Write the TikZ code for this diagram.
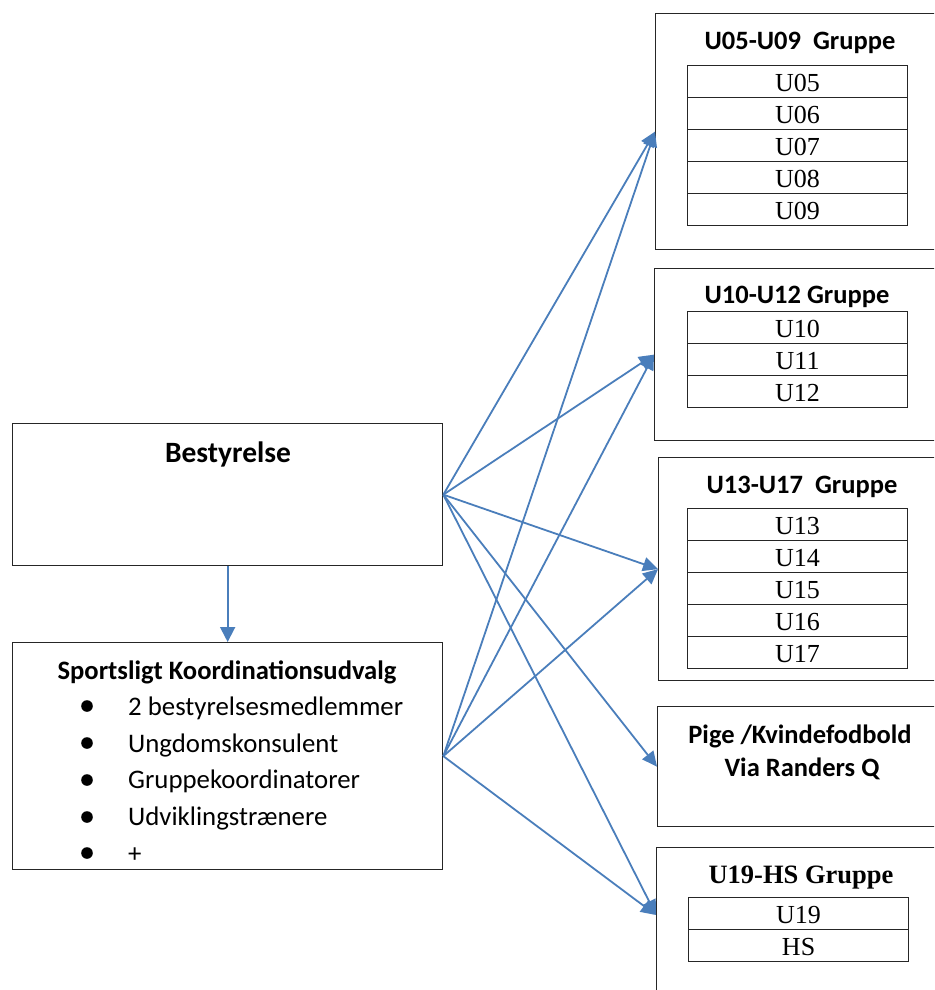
\documentclass[tikz,border=0pt]{standalone}
\usepackage{fontspec}
\setmainfont{Carlito}
\newfontfamily\tnr{Liberation Serif}
\usetikzlibrary{arrows.meta,calc}
\definecolor{lnblue}{RGB}{74,126,187}
\begin{document}
\begin{tikzpicture}[x=1pt,y=-1pt,
  box/.style={draw=black!85,line width=1.3pt,anchor=north west,inner sep=0pt},
  cell/.style={draw=black!85,line width=1.2pt,anchor=north west,minimum width=220pt,minimum height=32pt,inner sep=0pt,text height=20pt,text depth=0pt,font=\tnr\fontsize{26}{26}\selectfont},
  ttl/.style={anchor=base,inner sep=0pt,font=\bfseries\fontsize{26.5}{26.5}\selectfont},
  item/.style={anchor=base west,inner sep=0pt,font=\fontsize{26.8}{26.8}\selectfont},
  conn/.style={draw=lnblue,line width=1.8pt,-{Triangle[length=15pt,width=14pt]}},
]
\clip (0,0) rectangle (934,990);
\fill[white] (0,0) rectangle (934,990);

% left boxes
\node[box,minimum width=430pt,minimum height=142pt] (best) at (12,423) {};
\node[anchor=base,inner sep=0pt,font=\bfseries\fontsize{29.5}{29.5}\selectfont] (bestt) at (228,462) {Bestyrelse};

\node[box,minimum width=430pt,minimum height=227pt] (sku) at (12,642) {};
\node[anchor=base,inner sep=0pt,font=\bfseries\fontsize{26.6}{26.6}\selectfont] (skut) at (227,679) {Sportsligt Koordinationsudvalg};
\node[item] (i1) at (128,715) {2 bestyrelsesmedlemmer};
\node[item] (i2) at (128,752) {Ungdomskonsulent};
\node[item] (i3) at (128,788.5) {Gruppekoordinatorer};
\node[item] (i4) at (128,825) {Udviklingstrænere};
\node[item] (i5) at (128,862) {+};
\foreach \yy in {706,743,780,817,853} \fill (87,\yy) circle (5.8pt);

% right boxes
\node[box,minimum width=320pt,minimum height=236pt] (g1) at (655,13) {};
\node[ttl] (g1t) at (800,49) {U05-U09\ \ Gruppe};
\node[cell] (u05) at (687,65) {U05};
\node[cell] (u06) at (687,97) {U06};
\node[cell] (u07) at (687,129) {U07};
\node[cell] (u08) at (687,161) {U08};
\node[cell] (u09) at (687,193) {U09};

\node[box,minimum width=320pt,minimum height=172pt] (g2) at (654,268) {};
\node[ttl] (g2t) at (797,303) {U10-U12 Gruppe};
\node[cell] (u10) at (687,311) {U10};
\node[cell] (u11) at (687,343) {U11};
\node[cell] (u12) at (687,375) {U12};

\node[box,minimum width=320pt,minimum height=223pt] (g3) at (658,457) {};
\node[ttl] (g3t) at (802,493) {U13-U17\ \ Gruppe};
\node[cell] (u13) at (687,508) {U13};
\node[cell] (u14) at (687,540) {U14};
\node[cell] (u15) at (687,572) {U15};
\node[cell] (u16) at (687,604) {U16};
\node[cell] (u17) at (687,636) {U17};

\node[box,minimum width=320pt,minimum height=120pt] (g4) at (657,706) {};
\node[ttl] (g4a) at (800,743) {Pige /Kvindefodbold};
\node[ttl] (g4b) at (802,776) {Via Randers Q};

\node[box,minimum width=320pt,minimum height=200pt] (g5) at (656,847) {};
\node[anchor=base,inner sep=0pt,font=\tnr\bfseries\fontsize{26.5}{26.5}\selectfont] (g5t) at (801,883) {U19-HS Gruppe};
\node[cell] (u19) at (688,897) {U19};
\node[cell] (hs) at (688,929) {HS};
\coordinate (t5) at ([yshift=-68pt]g5.north west);

% connectors
\draw[draw=lnblue,line width=1.8pt,-{Triangle[length=15pt,width=15pt]}] (best.south) -- (sku.north);
\foreach \g in {g1,g2,g3,g4} \draw[conn] (best.east) -- (\g.west);
\draw[conn] (best.east) -- (t5);
\foreach \g in {g1,g2,g3} \draw[conn] (sku.east) -- (\g.west);
\draw[conn] (sku.east) -- (t5);
\end{tikzpicture}
\end{document}
